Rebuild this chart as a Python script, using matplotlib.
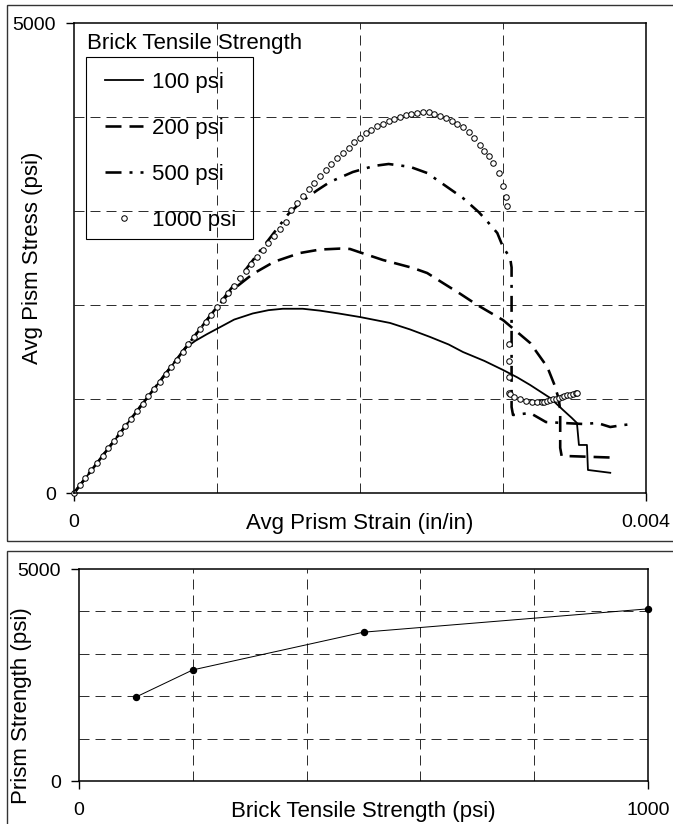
import matplotlib.pyplot as plt
from matplotlib.patches import Rectangle

plt.rcParams['font.family'] = ['Liberation Sans', 'DejaVu Sans']
plt.rcParams['lines.scale_dashes'] = False

# ---- top chart: average prism stress vs strain, per brick tensile strength
strain_100 = [0, 0.00078, 0.00085, 0.00093, 0.00101, 0.00112, 0.00125, 0.00136,
              0.00146, 0.00160, 0.00172, 0.00185, 0.00200, 0.00221, 0.00235,
              0.00249, 0.00262, 0.00272, 0.00287, 0.00300, 0.00310, 0.00319,
              0.00333, 0.00342, 0.00348, 0.003517, 0.003531, 0.003587,
              0.003594, 0.00375]
stress_100 = [0, 1545, 1620, 1690, 1755, 1845, 1910, 1945, 1960, 1960, 1940,
              1910, 1872, 1809, 1740, 1660, 1580, 1500, 1405, 1309, 1230, 1149,
              1011, 883, 800, 745, 511, 511, 245, 215]

strain_200 = [0, 0.00100, 0.00110, 0.00125, 0.00140, 0.00158, 0.00172, 0.00186,
              0.00193, 0.00200, 0.00216, 0.00237, 0.00247, 0.00258, 0.00270,
              0.00282, 0.00300, 0.00319, 0.00331, 0.00336, 0.00339, 0.00340,
              0.00340, 0.00341, 0.00380]
stress_200 = [0, 1980, 2150, 2330, 2460, 2553, 2590, 2600, 2596, 2560, 2479,
              2394, 2340, 2234, 2120, 2000, 1840, 1596, 1340, 1150, 1000, 880,
              480, 395, 375]

strain_500 = [0, 0.00150, 0.00160, 0.00170, 0.00179, 0.00195, 0.00210, 0.00220,
              0.00235, 0.00247, 0.00261, 0.00272, 0.00283, 0.00290, 0.00296,
              0.00300, 0.00305, 0.00306, 0.00306, 0.00307, 0.00319, 0.00330,
              0.00342, 0.00356, 0.00366, 0.00375, 0.00384, 0.00391]
stress_500 = [0, 2970, 3110, 3220, 3309, 3415, 3480, 3500, 3470, 3404, 3255,
              3138, 2989, 2872, 2766, 2617, 2500, 2400, 915, 830, 851, 755, 745,
              734, 745, 702, 723, 734]

strain_1000 = [0, 0.00004, 0.00008, 0.00012, 0.00016, 0.00020, 0.00024, 0.00028,
               0.00032, 0.00036, 0.00040, 0.00044, 0.00048, 0.00052, 0.00056,
               0.00060, 0.00064, 0.00068, 0.00072, 0.00076, 0.00080, 0.00084,
               0.00088, 0.00092, 0.00096, 0.00100, 0.00104, 0.00108, 0.00112,
               0.00116, 0.00120, 0.00124, 0.00128, 0.00132, 0.00136, 0.00140,
               0.00144, 0.00148, 0.00152, 0.00156, 0.00160, 0.00164, 0.00168,
               0.00172, 0.00176, 0.00180, 0.00184, 0.00188, 0.00192, 0.00196,
               0.00200, 0.00204, 0.00208, 0.00212, 0.00216, 0.00220, 0.00224,
               0.00228, 0.00232, 0.00236, 0.00240, 0.00244, 0.00248, 0.00252,
               0.00256, 0.00260, 0.00264, 0.00268, 0.00272, 0.00276, 0.00280,
               0.00284, 0.00287, 0.00290, 0.00293, 0.00297, 0.00300, 0.00302,
               0.00303,
               0.00304, 0.00304, 0.00304, 0.00304, 0.00305, 0.00308, 0.00312,
               0.00316, 0.00320, 0.00324, 0.00327, 0.00329, 0.00331, 0.00333,
               0.00335, 0.00337, 0.00339, 0.00341, 0.00343, 0.00345, 0.00347,
               0.00349, 0.00351, 0.00352]
stress_1000 = [0, 80, 160, 240, 315, 395, 475, 555, 635, 710, 790, 870, 950,
               1030, 1105, 1185, 1265, 1345, 1420, 1500, 1580, 1660, 1740, 1815,
               1895, 1975, 2050, 2130, 2205, 2285, 2360, 2435, 2510, 2585, 2660,
               2735, 2810, 2885, 3010, 3085, 3160, 3230, 3300, 3370, 3440, 3505,
               3565, 3620, 3675, 3730, 3780, 3825, 3865, 3900, 3930, 3958, 3980,
               4000, 4020, 4035, 4045, 4050, 4048, 4035, 4010, 3985, 3960, 3930,
               3890, 3840, 3775, 3700, 3640, 3590, 3510, 3400, 3270, 3150, 3055,
               1580, 1400, 1235, 1065, 1050, 1020, 995, 980, 972, 968, 966, 968,
               975, 985, 995, 1005, 1015, 1025, 1033, 1040, 1047, 1054, 1060,
               1066]

# ---- bottom chart: prism strength vs brick tensile strength
tensile = [100, 200, 500, 1000]
prism_strength = [1980, 2620, 3510, 4060]

PX = 0.72  # points per pixel at dpi 100
LABEL_FS = 16

fig = plt.figure(figsize=(6.73, 8.24), dpi=100)

# panel frames
fig.add_artist(Rectangle((7 / 673, 1 - 541 / 824), 1.0, 536 / 824,
                         transform=fig.transFigure, fill=False,
                         edgecolor='#333333', lw=1.0, clip_on=False))
fig.add_artist(Rectangle((7 / 673, -0.05), 1.0, 0.05 + 1 - 551 / 824,
                         transform=fig.transFigure, fill=False,
                         edgecolor='#333333', lw=1.0, clip_on=False))


def style_axes(ax):
    for sp in ax.spines.values():
        sp.set_linewidth(1.1)
        sp.set_color('black')
    ax.tick_params(which='major', direction='out', length=6 * PX * 1.4,
                   width=1.0, labelsize=14)
    ax.tick_params(which='minor', length=0)
    ax.tick_params(axis='y', pad=7)
    ax.tick_params(axis='x', pad=9)
    ax.grid(which='minor', color='#303030', lw=1 * PX,
            linestyle=(0, (10 * PX, 6 * PX)))
    ax.set_axisbelow(True)


# top axes
ax = fig.add_axes([74 / 673, 1 - 493 / 824, 572 / 673, 470 / 824])
ax.plot(strain_100, stress_100, color='black', lw=1.8 * PX, label='100 psi')
ax.plot(strain_200, stress_200, color='black', lw=2.6 * PX,
        linestyle=(0, (16 * PX, 8 * PX)), label='200 psi')
ax.plot(strain_500, stress_500, color='black', lw=2.6 * PX,
        linestyle=(0, (16 * PX, 8 * PX, 3 * PX, 8 * PX)), label='500 psi')
ax.plot(strain_1000, stress_1000, linestyle='none', marker='o',
        markersize=5.5 * PX, markerfacecolor='white', markeredgecolor='black',
        markeredgewidth=1 * PX, label='1000 psi', clip_on=False)
ax.set_xlim(0, 0.004)
ax.set_ylim(0, 5000)
ax.set_xticks([0, 0.004])
ax.set_xticklabels(['0', '0.004'])
ax.set_xticks([0.001, 0.002, 0.003], minor=True)
ax.set_yticks([0, 5000])
ax.set_yticklabels(['0', '5000'])
ax.set_yticks([1000, 2000, 3000, 4000], minor=True)
style_axes(ax)
ax.set_xlabel('Avg Prism Strain (in/in)', fontsize=LABEL_FS)
ax.xaxis.label.set_va('center')
ax.xaxis.set_label_coords(0.5, -30 / 470)
ax.set_ylabel('Avg Pism Stress (psi)', fontsize=LABEL_FS)
ax.yaxis.label.set_va('center')
ax.yaxis.set_label_coords(-41 / 572, 0.5)

# legend: title above a framed box
ax.text(13 / 572, (493 - 43) / 470, 'Brick Tensile Strength',
        fontsize=LABEL_FS, transform=ax.transAxes, ha='left', va='center')
ax.add_patch(Rectangle((12 / 572, (493 - 239) / 470), 167 / 572, 182 / 470,
                       transform=ax.transAxes, fill=False, edgecolor='black',
                       lw=0.8, zorder=4))
fs_px = LABEL_FS / PX
leg = ax.legend(loc='upper left',
                bbox_to_anchor=(31 / 572, (493 - 83 + fs_px * 0.5) / 470),
                borderaxespad=0, borderpad=0, frameon=False,
                fontsize=LABEL_FS, handlelength=38 / fs_px,
                handletextpad=9 / fs_px, labelspacing=1.12, numpoints=1)

# bottom axes
ax2 = fig.add_axes([79 / 673, 1 - 781 / 824, 569 / 673, 212 / 824])
ax2.plot(tensile, prism_strength, color='black', lw=1 * PX, marker='o',
         markersize=6 * PX, markerfacecolor='black', markeredgecolor='black',
         clip_on=False, zorder=3)
ax2.set_xlim(0, 1000)
ax2.set_ylim(0, 5000)
ax2.set_xticks([0, 1000])
ax2.set_xticks([200, 400, 600, 800], minor=True)
ax2.set_yticks([0, 5000])
ax2.set_yticks([1000, 2000, 3000, 4000], minor=True)
style_axes(ax2)
ax2.set_xlabel('Brick Tensile Strength (psi)', fontsize=LABEL_FS)
ax2.xaxis.label.set_va('center')
ax2.xaxis.set_label_coords(0.5, -30 / 212)
ax2.set_ylabel('Prism Strength (psi)', fontsize=LABEL_FS)
ax2.yaxis.label.set_va('center')
ax2.yaxis.set_label_coords(-57 / 569, 0.354)

fig.savefig('out.png', dpi=100)
